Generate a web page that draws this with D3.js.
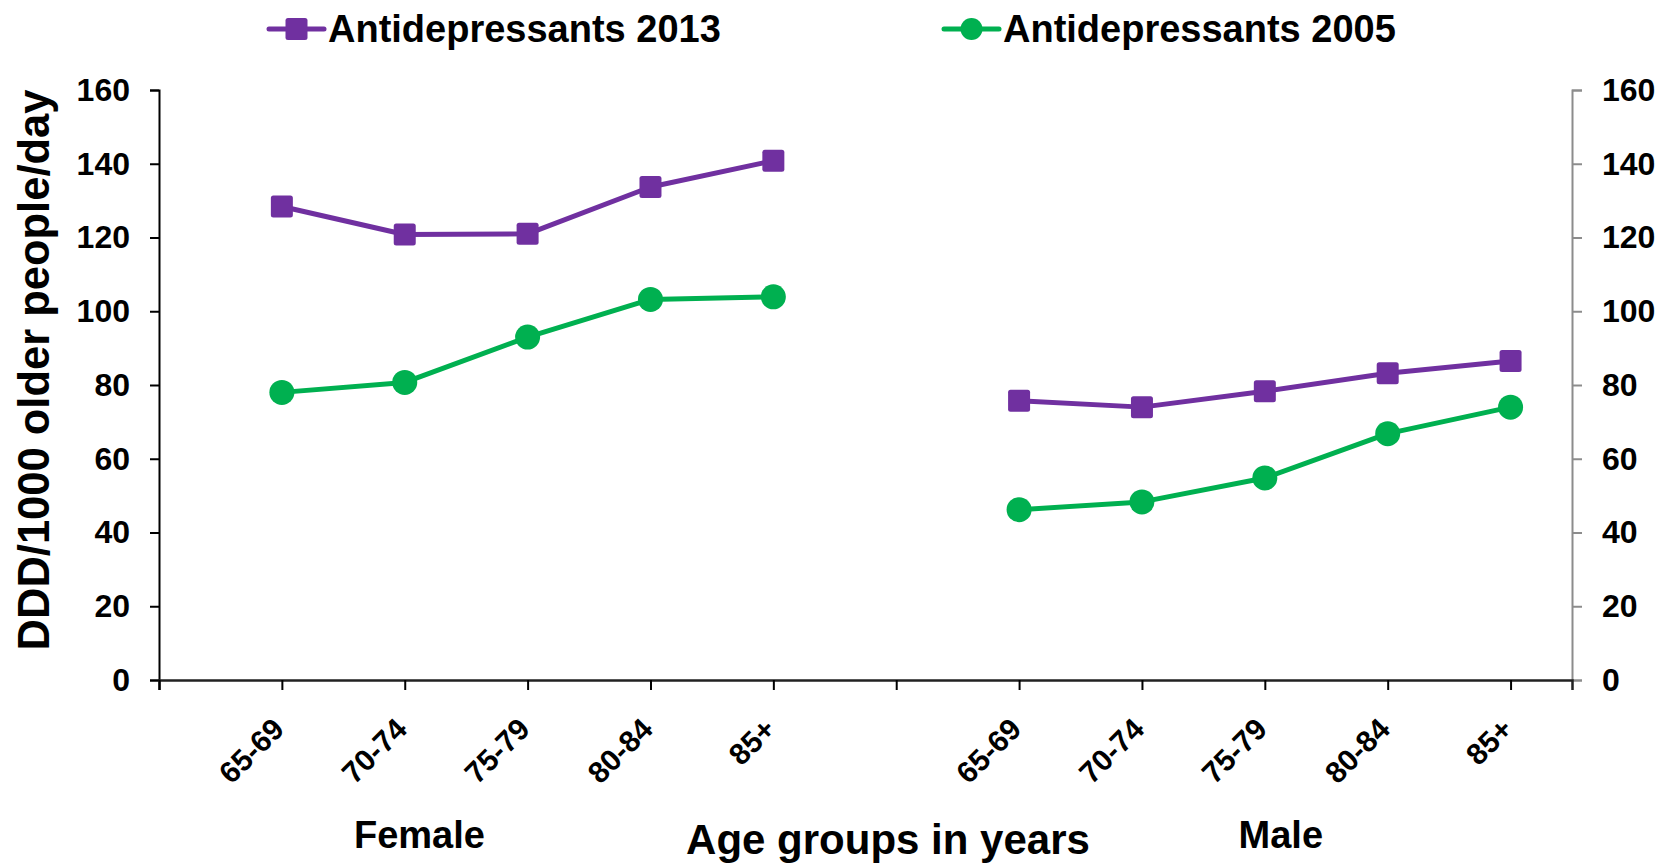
<!DOCTYPE html>
<html>
<head>
<meta charset="utf-8">
<script src="https://cdn.jsdelivr.net/npm/d3@7/dist/d3.min.js"></script>
<style>
  html, body { margin: 0; padding: 0; background: #fff; }
  svg { display: block; font-family: "Liberation Sans", Arial, sans-serif; font-weight: bold; }
</style>
</head>
<body>
<svg id="chart" width="1663" height="864"></svg>
<script>
// ---- Data ----
const categories = ["65-69", "70-74", "75-79", "80-84", "85+", "", "65-69", "70-74", "75-79", "80-84", "85+"];
const groupLabels = ["Female", "Male"];
const seriesNames = ["Antidepressants 2013", "Antidepressants 2005"];
const female2013 = [128.4, 120.8, 121.0, 133.7, 140.8];
const female2005 = [78.0, 80.7, 93.0, 103.2, 103.9];
const male2013 = [75.7, 74.0, 78.3, 83.2, 86.5];
const male2005 = [46.2, 48.3, 54.8, 66.8, 74.0];
const yTicks = [0, 20, 40, 60, 80, 100, 120, 140, 160];

(function () {
const colors = { s2013: "#7030A0", s2005: "#00B050" };

const svg = d3.select("#chart");
const mLeft = 159, mRight = 1572, mTop = 90, mBottom = 680;

const x = d3.scaleLinear().domain([-1, categories.length - 0.5]).range([mLeft, mRight]);
const y = d3.scaleLinear().domain([0, 160]).range([mBottom, mTop]);

// ---- Axes ----
const yLeft = d3.axisLeft(y).tickValues(yTicks).tickSize(9).tickPadding(0).tickFormat(d3.format("d"));
const gl = svg.append("g").attr("transform", `translate(${mLeft},0)`).call(yLeft);
gl.select(".domain").attr("stroke", "#000").attr("stroke-width", 2);
gl.selectAll(".tick line").attr("stroke", "#000").attr("stroke-width", 2);
gl.selectAll(".tick text").attr("x", -29).attr("font-size", 32).attr("font-weight", "bold")
  .attr("font-family", "Liberation Sans, Arial, sans-serif").attr("fill", "#000");

const yRight = d3.axisRight(y).tickValues(yTicks).tickSize(10).tickPadding(0).tickFormat(d3.format("d"));
const gr = svg.append("g").attr("transform", `translate(${mRight},0)`).call(yRight);
gr.select(".domain").attr("stroke", "#8c8c8c").attr("stroke-width", 2);
gr.selectAll(".tick line").attr("stroke", "#8c8c8c").attr("stroke-width", 2);
gr.selectAll(".tick text").attr("x", 30).attr("font-size", 32).attr("font-weight", "bold")
  .attr("font-family", "Liberation Sans, Arial, sans-serif").attr("fill", "#000");

// x axis
const xTickVals = d3.range(-1, categories.length);
const xAxis = d3.axisBottom(x).tickValues(xTickVals).tickSize(10).tickFormat(() => "");
const gx = svg.append("g").attr("transform", `translate(0,${mBottom})`).call(xAxis);
gx.select(".domain").attr("stroke", "#222").attr("stroke-width", 2.5);
gx.selectAll(".tick line").attr("stroke", "#000").attr("stroke-width", 2);

// rotated category labels
svg.append("g").selectAll("text").data(categories).join("text")
  .attr("transform", (d, i) => `translate(${x(i) + 4},${mBottom + 51}) rotate(-45)`)
  .attr("text-anchor", "end")
  .attr("font-size", 30)
  .attr("fill", "#000")
  .text(d => d);

// group labels
svg.append("text").attr("x", x(1.12)).attr("y", 848).attr("text-anchor", "middle")
  .attr("font-size", 38).attr("fill", "#000").text(groupLabels[0]);
svg.append("text").attr("x", x(8.13)).attr("y", 848).attr("text-anchor", "middle")
  .attr("font-size", 38).attr("fill", "#000").text(groupLabels[1]);

// axis titles
svg.append("text").attr("x", 888).attr("y", 854).attr("text-anchor", "middle")
  .attr("font-size", 42).attr("fill", "#000").text("Age groups in years");
svg.append("text").attr("transform", `translate(49,370) rotate(-90)`)
  .attr("text-anchor", "middle").attr("font-size", 43.5).attr("fill", "#000")
  .text("DDD/1000 older people/day");

// ---- Series ----
const femaleIdx = [0, 1, 2, 3, 4];
const maleIdx = [6, 7, 8, 9, 10];
const line = d3.line().x(d => x(d[0])).y(d => y(d[1]));

function drawSeries(idx, vals, color, shape) {
  const pts = idx.map((k, i) => [k, vals[i]]);
  svg.append("path").attr("d", line(pts)).attr("fill", "none")
    .attr("stroke", color).attr("stroke-width", 5).attr("stroke-linejoin", "round");
  const g = svg.append("g");
  if (shape === "square") {
    g.selectAll("rect").data(pts).join("rect")
      .attr("x", d => x(d[0]) - 11).attr("y", d => y(d[1]) - 11)
      .attr("width", 22).attr("height", 22).attr("rx", 2.5).attr("fill", color);
  } else {
    g.selectAll("circle").data(pts).join("circle")
      .attr("cx", d => x(d[0])).attr("cy", d => y(d[1])).attr("r", 12.5).attr("fill", color);
  }
}
drawSeries(femaleIdx, female2013, colors.s2013, "square");
drawSeries(maleIdx, male2013, colors.s2013, "square");
drawSeries(femaleIdx, female2005, colors.s2005, "circle");
drawSeries(maleIdx, male2005, colors.s2005, "circle");

// ---- Legend ----
const legendItems = [
  { name: seriesNames[0], color: colors.s2013, shape: "square", x0: 269 },
  { name: seriesNames[1], color: colors.s2005, shape: "circle", x0: 944 }
];
const ly = 29;
legendItems.forEach(it => {
  const g = svg.append("g");
  g.append("line").attr("x1", it.x0).attr("x2", it.x0 + 55).attr("y1", ly).attr("y2", ly)
    .attr("stroke", it.color).attr("stroke-width", 5).attr("stroke-linecap", "round");
  if (it.shape === "square") {
    g.append("rect").attr("x", it.x0 + 27.5 - 11).attr("y", ly - 11).attr("width", 22).attr("height", 22)
      .attr("rx", 2.5).attr("fill", it.color);
  } else {
    g.append("circle").attr("cx", it.x0 + 27.5).attr("cy", ly).attr("r", 11).attr("fill", it.color);
  }
  g.append("text").attr("x", it.x0 + 59).attr("y", ly + 13).attr("font-size", 38).attr("fill", "#000").text(it.name);
});
})();
</script>
</body>
</html>
